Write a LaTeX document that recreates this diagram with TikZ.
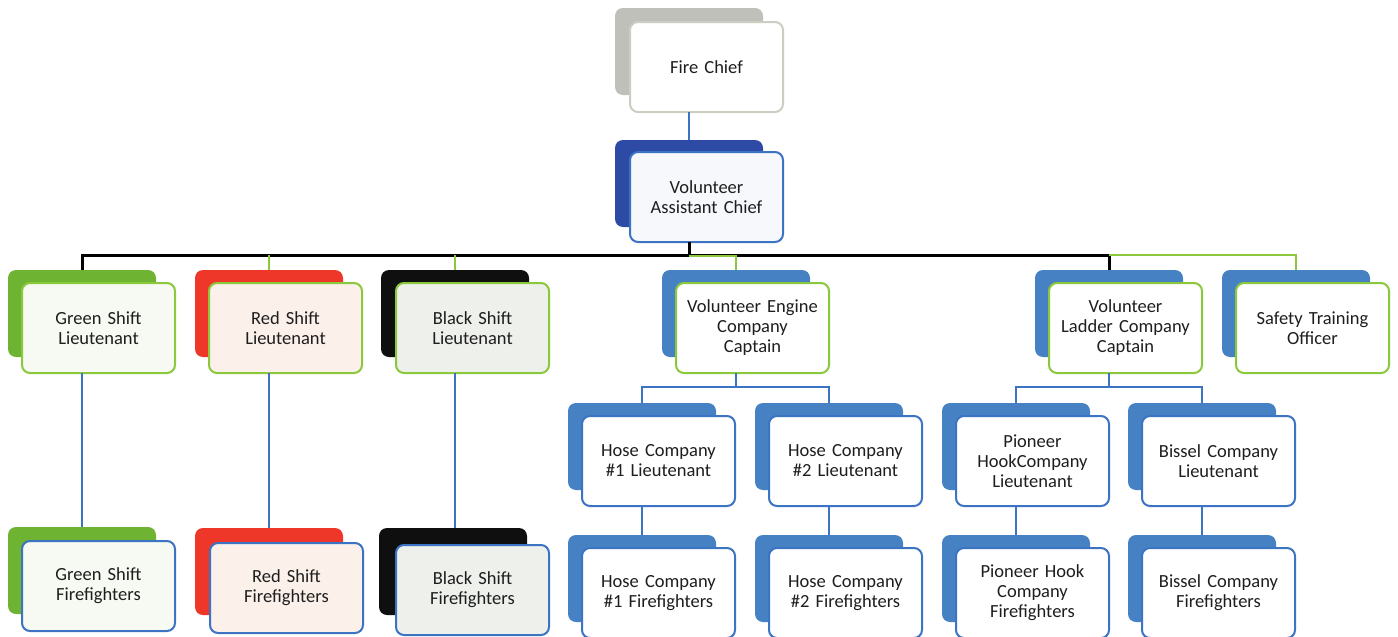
\documentclass[tikz,border=0pt]{standalone}
\usepackage{fontspec}
\setmainfont{Carlito}
\definecolor{chiefgray}{RGB}{190,192,185}
\definecolor{chiefedge}{RGB}{205,205,195}
\definecolor{asstblue}{RGB}{45,75,165}
\definecolor{compblue}{RGB}{70,130,195}
\definecolor{edgeblue}{RGB}{60,115,195}
\definecolor{lime}{RGB}{140,200,60}
\definecolor{shiftgreen}{RGB}{110,180,50}
\definecolor{shiftred}{RGB}{238,55,40}
\definecolor{shiftblack}{RGB}{15,15,15}
\definecolor{txt}{RGB}{30,30,30}
\definecolor{tintred}{RGB}{252,240,234}
\definecolor{tintgray}{RGB}{238,240,236}
\definecolor{tintgreen}{RGB}{246,250,242}
\definecolor{tintblue}{RGB}{246,248,252}
\tikzset{
  backbox/.style={rectangle, rounded corners=8pt, minimum width=148pt, minimum height=87pt,
    inner sep=0pt, outer sep=0pt, anchor=north west},
  frontbox/.style={rectangle, rounded corners=8pt, minimum width=153pt, minimum height=90pt,
    inner sep=2pt, outer sep=0pt, anchor=north west, line width=2pt, fill=white,
    align=center, text=txt, font=\fontsize{18.5}{20}\selectfont, text width=147pt},
  blueline/.style={draw=edgeblue, line width=2pt},
  busline/.style={draw=black, line width=3pt},
  greenline/.style={draw=lime, line width=2.5pt},
}
\begin{document}
\begin{tikzpicture}[x=1pt,y=-1pt]
\useasboundingbox (0,0) rectangle (1398,637);
\fill[white] (0,0) rectangle (1398,637);
% top
\node[backbox, fill=chiefgray] (chief-b) at (615,8) {};
\node[frontbox, draw=chiefedge] (chief) at (630,22) {Fire Chief};
\node[backbox, fill=asstblue] (asst-b) at (615,140) {};
\node[frontbox, draw=edgeblue, fill=tintblue] (asst) at (630,152) {Volunteer\\Assistant Chief};
% row 1
\node[backbox, fill=shiftgreen] (gsl-b) at (8,270) {};
\node[frontbox, draw=lime, fill=tintgreen] (gsl) at (22,283) {Green Shift\\Lieutenant};
\node[backbox, fill=shiftred] (rsl-b) at (195,270) {};
\node[frontbox, draw=lime, fill=tintred] (rsl) at (209,283) {Red Shift\\Lieutenant};
\node[backbox, fill=shiftblack] (bsl-b) at (381,270) {};
\node[frontbox, draw=lime, fill=tintgray] (bsl) at (396,283) {Black Shift\\Lieutenant};
\node[backbox, fill=compblue] (eng-b) at (662,270) {};
\node[frontbox, draw=lime] (eng) at (676,283) {Volunteer Engine\\Company\\Captain};
\node[backbox, fill=compblue] (lad-b) at (1035,270) {};
\node[frontbox, draw=lime] (lad) at (1049,283) {Volunteer\\Ladder Company\\Captain};
\node[backbox, fill=compblue] (sto-b) at (1222,270) {};
\node[frontbox, draw=lime] (sto) at (1236,283) {Safety Training\\Officer};
% row 2
\node[backbox, fill=compblue] (h1l-b) at (568,403) {};
\node[frontbox, draw=edgeblue] (h1l) at (582,416) {Hose Company\\\#1 Lieutenant};
\node[backbox, fill=compblue] (h2l-b) at (755,403) {};
\node[frontbox, draw=edgeblue] (h2l) at (769,416) {Hose Company\\\#2 Lieutenant};
\node[backbox, fill=compblue] (phl-b) at (942,403) {};
\node[frontbox, draw=edgeblue] (phl) at (956,416) {Pioneer\\HookCompany\\Lieutenant};
\node[backbox, fill=compblue] (bcl-b) at (1128,403) {};
\node[frontbox, draw=edgeblue] (bcl) at (1142,416) {Bissel Company\\Lieutenant};
% row 3 shifts
\node[backbox, fill=shiftgreen] (gsf-b) at (8,527) {};
\node[frontbox, draw=edgeblue, fill=tintgreen] (gsf) at (22,541) {Green Shift\\Firefighters};
\node[backbox, fill=shiftred] (rsf-b) at (195,528) {};
\node[frontbox, draw=edgeblue, fill=tintred] (rsf) at (210,543) {Red Shift\\Firefighters};
\node[backbox, fill=shiftblack] (bsf-b) at (379,528) {};
\node[frontbox, draw=edgeblue, fill=tintgray] (bsf) at (396,545) {Black Shift\\Firefighters};
% row 3 companies
\node[backbox, fill=compblue] (h1f-b) at (568,535) {};
\node[frontbox, draw=edgeblue] (h1f) at (582,548) {Hose Company\\\#1 Firefighters};
\node[backbox, fill=compblue] (h2f-b) at (755,535) {};
\node[frontbox, draw=edgeblue] (h2f) at (769,548) {Hose Company\\\#2 Firefighters};
\node[backbox, fill=compblue] (phf-b) at (942,535) {};
\node[frontbox, draw=edgeblue] (phf) at (956,548) {Pioneer Hook\\Company\\Firefighters};
\node[backbox, fill=compblue] (bcf-b) at (1128,535) {};
\node[frontbox, draw=edgeblue] (bcf) at (1142,548) {Bissel Company\\Firefighters};
% connectors
\coordinate (bus) at (0,255);
\draw[blueline] (chief-b.center |- chief.south) -- (chief-b.center |- asst-b.north);
\draw[busline] (asst-b.center |- asst.south) -- (asst-b.center |- bus);
\draw[busline] (gsl-b.north) -- (gsl-b.north |- bus) -- (lad-b.north |- bus) -- (lad-b.north);
\draw[greenline] (rsl-b.north |- bus) -- (rsl-b.north);
\draw[greenline] (bsl-b.north |- bus) -- (bsl-b.north);
\draw[greenline] ([yshift=-1pt]asst-b.center |- bus) -- ([yshift=-1pt]eng-b.north |- bus) -- (eng-b.north);
\draw[greenline] (lad-b.north |- bus) -- (sto-b.north |- bus) -- (sto-b.north);
\draw[blueline] (gsl-b.center |- gsl.south) -- (gsl-b.center |- gsf-b.north);
\draw[blueline] (rsl-b.center |- rsl.south) -- (rsl-b.center |- rsf-b.north);
\draw[blueline] (bsl-b.center |- bsl.south) -- (bsl-b.center |- bsf-b.north);
\draw[blueline] (eng-b.center |- eng.south) -- ++(0,14) -| (h1l-b.north);
\draw[blueline] (eng-b.center |- eng.south) -- ++(0,14) -| (h2l-b.north);
\draw[blueline] (lad-b.center |- lad.south) -- ++(0,14) -| (phl-b.north);
\draw[blueline] (lad-b.center |- lad.south) -- ++(0,14) -| (bcl-b.north);
\draw[blueline] (h1l-b.center |- h1l.south) -- (h1f-b.north);
\draw[blueline] (h2l-b.center |- h2l.south) -- (h2f-b.north);
\draw[blueline] (phl-b.center |- phl.south) -- (phf-b.north);
\draw[blueline] (bcl-b.center |- bcl.south) -- (bcf-b.north);
\end{tikzpicture}
\end{document}
